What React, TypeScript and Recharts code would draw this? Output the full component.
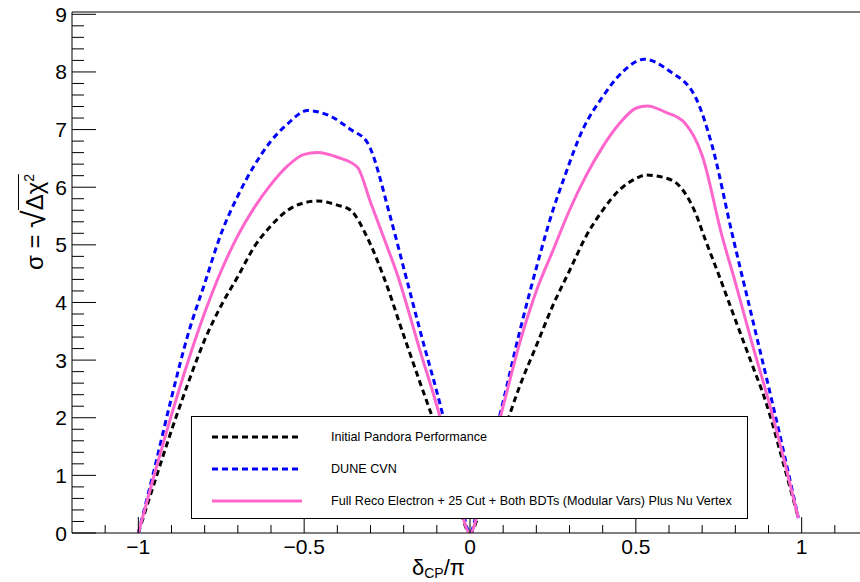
import React from "react";
import { Line, LineChart, ReferenceLine, XAxis, YAxis } from "recharts";

const FONT = "'Liberation Sans', Arial, Helvetica, sans-serif";

// delta_CP / pi sampling and sensitivity values, one pair of arrays per curve
const pandoraX = [-1, -0.95, -0.9, -0.85, -0.8, -0.75, -0.7, -0.65, -0.6, -0.55, -0.5, -0.46, -0.4, -0.36, -0.31, -0.26, -0.2, -0.15, -0.11, -0.05, 0, 0.05, 0.1, 0.15, 0.2, 0.25, 0.3, 0.35, 0.4, 0.45, 0.5, 0.53, 0.59, 0.63, 0.68, 0.71, 0.75, 0.8, 0.85, 0.89, 0.95, 0.99];
const pandoraY = [0, 0.9, 1.78, 2.6, 3.35, 3.95, 4.45, 4.97, 5.33, 5.6, 5.73, 5.76, 5.69, 5.6, 5.13, 4.44, 3.43, 2.6, 1.95, 0.88, 0, 0.86, 1.72, 2.55, 3.25, 3.95, 4.55, 5.15, 5.6, 5.95, 6.15, 6.21, 6.16, 6.03, 5.55, 5.08, 4.48, 3.7, 2.93, 2.31, 1.1, 0.26];

const cvnX = [-1, -0.95, -0.9, -0.85, -0.8, -0.75, -0.7, -0.65, -0.6, -0.55, -0.49, -0.42, -0.36, -0.31, -0.24, -0.2, -0.15, -0.08, -0.04, 0, 0.04, 0.09, 0.15, 0.2, 0.25, 0.28, 0.34, 0.4, 0.46, 0.525, 0.6, 0.68, 0.73, 0.79, 0.85, 0.91, 0.95, 0.99];
const cvnY = [0, 1.15, 2.35, 3.45, 4.33, 5.2, 5.85, 6.38, 6.8, 7.1, 7.33, 7.23, 7.0, 6.78, 5.48, 4.6, 3.5, 2.0, 1.0, 0, 1.0, 2.05, 3.5, 4.6, 5.6, 6.1, 7.0, 7.57, 8.0, 8.22, 8.02, 7.56, 6.72, 5.2, 3.75, 2.3, 1.3, 0.26];

const recoX = [-1, -0.95, -0.9, -0.85, -0.8, -0.75, -0.7, -0.65, -0.6, -0.55, -0.5, -0.46, -0.4, -0.34, -0.3, -0.25, -0.22, -0.15, -0.09, -0.05, 0, 0.05, 0.1, 0.15, 0.2, 0.25, 0.3, 0.35, 0.4, 0.45, 0.5, 0.535, 0.59, 0.645, 0.7, 0.76, 0.8, 0.85, 0.9, 0.95, 0.99];
const recoY = [0, 1.05, 2.05, 2.98, 3.82, 4.55, 5.16, 5.65, 6.05, 6.37, 6.57, 6.6, 6.52, 6.35, 5.74, 4.97, 4.5, 3.15, 2.0, 1.05, 0, 1.1, 2.2, 3.3, 4.2, 4.9, 5.6, 6.2, 6.7, 7.1, 7.37, 7.41, 7.3, 7.13, 6.55, 5.15, 4.35, 3.3, 2.3, 1.2, 0.26];

const seriesNames = [
  "Initial Pandora Performance",
  "DUNE CVN",
  "Full Reco Electron + 25 Cut + Both BDTs (Modular Vars) Plus Nu Vertex",
];
const seriesColors = ["#000000", "#0000ff", "#ff66cc"];
const seriesDash = ["6 4", "6 4", undefined];

const xMajorTicks = [-1, -0.5, 0, 0.5, 1];
const xTickLabels = ["\u22121", "\u22120.5", "0", "0.5", "1"];
const xMinorTicks = [-1.1, -0.9, -0.8, -0.7, -0.6, -0.4, -0.3, -0.2, -0.1, 0.1, 0.2, 0.3, 0.4, 0.6, 0.7, 0.8, 0.9, 1.1];
const yMajorTicks = [0, 1, 2, 3, 4, 5, 6, 7, 8, 9];
const yTickLabels = ["0", "1", "2", "3", "4", "5", "6", "7", "8", "9"];

const X_DOMAIN: [number, number] = [-1.2, 1.2];
const Y_DOMAIN: [number, number] = [0, 9.04];

const yMinorTicks: number[] = [];
yMajorTicks.forEach((t) => {
  [0.2, 0.4, 0.6, 0.8].forEach((f) => yMinorTicks.push(Math.round((t + f) * 10) / 10));
});
const xTicks = [...xMajorTicks, ...xMinorTicks].sort((a, b) => a - b);
const yTicks = [...yMajorTicks, ...yMinorTicks.filter((v) => v < 9)].sort((a, b) => a - b);

const toPoints = (xs: number[], ys: number[]) => xs.map((x, i) => ({ x, y: ys[i] }));
const series = [toPoints(pandoraX, pandoraY), toPoints(cvnX, cvnY), toPoints(recoX, recoY)];

const XTick = (props: any) => {
  const { x, y, payload } = props;
  const idx = xMajorTicks.indexOf(payload.value);
  const major = idx >= 0;
  return (
    <g>
      <line x1={x} x2={x} y1={y} y2={y - (major ? 16 : 8)} stroke="#000" strokeWidth={1} />
      {major && (
        <text x={x} y={y + 21} textAnchor="middle" fontSize={21} fontFamily={FONT} fill="#000">
          {xTickLabels[idx]}
        </text>
      )}
    </g>
  );
};

const YTick = (props: any) => {
  const { x, y, payload } = props;
  const idx = yMajorTicks.indexOf(payload.value);
  const major = idx >= 0;
  return (
    <g>
      <line x1={x} x2={x + (major ? 24 : 12)} y1={y} y2={y} stroke="#000" strokeWidth={1} />
      {major && (
        <text x={x - 5} y={y} dy="0.36em" textAnchor="end" fontSize={21} fontFamily={FONT} fill="#000">
          {yTickLabels[idx]}
        </text>
      )}
    </g>
  );
};

export default function App() {
  return (
    <div
      style={{
        position: "absolute",
        left: 0,
        top: 0,
        width: 860,
        height: 582,
        overflow: "hidden",
        background: "#fff",
        fontFamily: FONT,
      }}
    >
      <LineChart width={870} height={582} margin={{ top: 12, right: 2, bottom: 0, left: 0 }}>
        <XAxis
          type="number"
          dataKey="x"
          domain={X_DOMAIN}
          ticks={xTicks}
          interval={0}
          tick={(p: any) => <XTick {...p} />}
          tickLine={false}
          tickSize={0}
          tickMargin={0}
          axisLine={{ stroke: "#000", strokeWidth: 1 }}
          height={49}
          allowDataOverflow
        />
        <YAxis
          type="number"
          domain={Y_DOMAIN}
          ticks={yTicks}
          interval={0}
          tick={(p: any) => <YTick {...p} />}
          tickLine={false}
          tickSize={0}
          tickMargin={0}
          axisLine={{ stroke: "#000", strokeWidth: 1 }}
          width={72}
          allowDataOverflow
        />
        <ReferenceLine y={Y_DOMAIN[1]} stroke="#000" strokeWidth={1} />
        <ReferenceLine x={X_DOMAIN[1]} stroke="#000" strokeWidth={1} />
        {series.map((data, i) => (
          <Line
            key={seriesNames[i]}
            data={data}
            dataKey="y"
            name={seriesNames[i]}
            type="monotone"
            stroke={seriesColors[i]}
            strokeWidth={3}
            strokeDasharray={seriesDash[i]}
            dot={false}
            activeDot={false}
            isAnimationActive={false}
          />
        ))}
      </LineChart>

      {/* legend box */}
      <div
        style={{
          position: "absolute",
          left: 191,
          top: 416,
          width: 557,
          height: 103,
          border: "1px solid #000",
          boxSizing: "border-box",
          background: "#fff",
        }}
      >
        {seriesNames.map((name, i) => (
          <div key={name} style={{ position: "absolute", left: 0, top: 20 + i * 32 - 10, height: 20, width: "100%" }}>
            <svg width={100} height={20} style={{ position: "absolute", left: 20, top: 0 }}>
              <line
                x1={0}
                x2={90}
                y1={10}
                y2={10}
                stroke={seriesColors[i]}
                strokeWidth={3}
                strokeDasharray={seriesDash[i]}
              />
            </svg>
            <span
              style={{
                position: "absolute",
                left: 139,
                top: 2,
                fontSize: 12.6,
                lineHeight: "16px",
                whiteSpace: "nowrap",
                color: "#000",
              }}
            >
              {name}
            </span>
          </div>
        ))}
      </div>

      {/* y axis title */}
      <div
        style={{
          position: "absolute",
          left: 32,
          top: 222,
          transform: "translate(-50%, -50%) rotate(-90deg)",
          whiteSpace: "nowrap",
          fontSize: 24,
          lineHeight: "34px",
          color: "#000",
        }}
      >
        {"\u03c3 = "}
        <span style={{ fontSize: 32, verticalAlign: "-2px" }}>{"\u221a"}</span>
        <span style={{ borderTop: "1.5px solid #000", paddingTop: 2 }}>
          {"\u0394\u03c7"}
          <sup style={{ fontSize: 14 }}>2</sup>
        </span>
      </div>

      {/* x axis title */}
      <div
        style={{
          position: "absolute",
          left: 412,
          top: 559,
          whiteSpace: "nowrap",
          fontSize: 22,
          lineHeight: "18px",
          color: "#000",
        }}
      >
        {"\u03b4"}
        <span style={{ fontSize: 14, position: "relative", top: 3 }}>CP</span>
        {"/\u03c0"}
      </div>
    </div>
  );
}
